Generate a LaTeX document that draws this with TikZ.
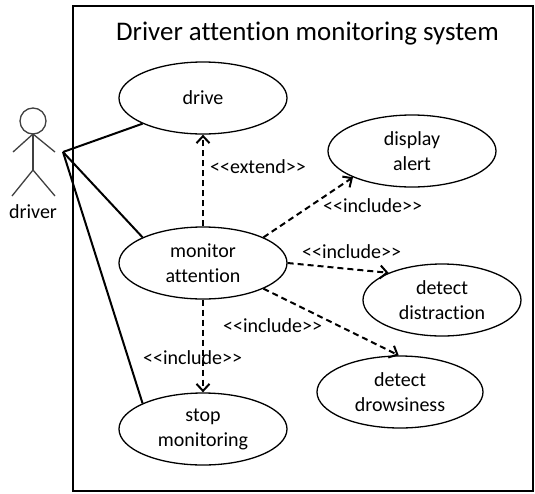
\documentclass[tikz,border=0pt]{standalone}
\usepackage{fontspec}
\setmainfont{Carlito}[Ligatures={NoCommon}]
\usetikzlibrary{arrows.meta}
\usetikzlibrary{shapes}
\usetikzlibrary{positioning}
\newcommand{\Incl}{{<}{<}include{>}{>}}
\tikzset{
  UseCase/.style={
    ellipse, draw=black, line width=1.3pt,
    minimum width=168pt, minimum height=72pt, inner sep=0pt,
    align=center, font=\fontsize{20}{25}\selectfont,
  },
  Assoc/.style={line width=2pt},
  Dep/.style={line width=2pt, dash pattern=on 6pt off 4pt,
    -{Straight Barb[length=7pt,width=13pt]}},
  Stereo/.style={font=\fontsize{20}{24}\selectfont, inner sep=0pt, anchor=west},
  Stick/.style={draw=black!75, line width=1.3pt},
}

\begin{document}
\begin{tikzpicture}[x=1pt,y=-1pt]
\useasboundingbox (0,0) rectangle (535,493);
\draw[line width=1.5pt] (73,6) rectangle (533,491);
\node[font=\fontsize{26.9}{32}\selectfont, anchor=base] (Title) at (307.5,40) {Driver attention monitoring system};
% use cases
\node[UseCase] (Drive) at (203,98) {drive};
\node[UseCase] (Monitor) at (203,263) {monitor\\attention};
\node[UseCase] (Stop) at (203,429) {stop\\monitoring};
\node[UseCase] (Alert) at (412,151) {display\\alert};
\node[UseCase, minimum width=158pt] (Distraction) at (442,300) {detect\\distraction};
\node[UseCase, minimum width=166pt] (Drowsiness) at (400,392) {detect\\drowsiness};
% actor
\node[Stick, circle, minimum size=26pt, inner sep=0pt] (Head) at (33,121) {};
\coordinate (Neck) at (33,134);
\coordinate (Hip) at (33,170);
\draw[Stick] (Head.south) -- (Hip);
\draw[Stick] (13,152) -- (Neck) -- (55,152);
\draw[Stick] (12,196) -- (Hip) -- (55,196);
\node[font=\fontsize{20}{24}\selectfont] (Driver) at (33,212) {driver};
\coordinate (Hand) at (63,152);
\draw[Assoc] (Hand) -- (Drive.203);
\draw[Assoc] (Hand) -- (Monitor.157);
\draw[Assoc] (Hand) -- (Stop.157);
% dependencies
\draw[Dep] (Monitor.north) -- (Drive.south);
\draw[Dep] (Monitor.23) -- (Alert.204);
\draw[Dep] (Monitor.east) -- (Distraction.153);
\draw[Dep] (Monitor.-23) -- (Drowsiness.92);
\draw[Dep] (Monitor.south) -- (Stop.north);
\node[Stereo] (ExtLbl) at (210,167) {{<}{<}extend{>}{>}};
\node[Stereo] (IncAlert) at (323,206) {\Incl};
\node[Stereo] (IncDistr) at (302,252) {\Incl};
\node[Stereo] (IncDrows) at (223,326) {\Incl};
\node[Stereo] (IncStop) at (143,358) {\Incl};
\end{tikzpicture}
\end{document}
